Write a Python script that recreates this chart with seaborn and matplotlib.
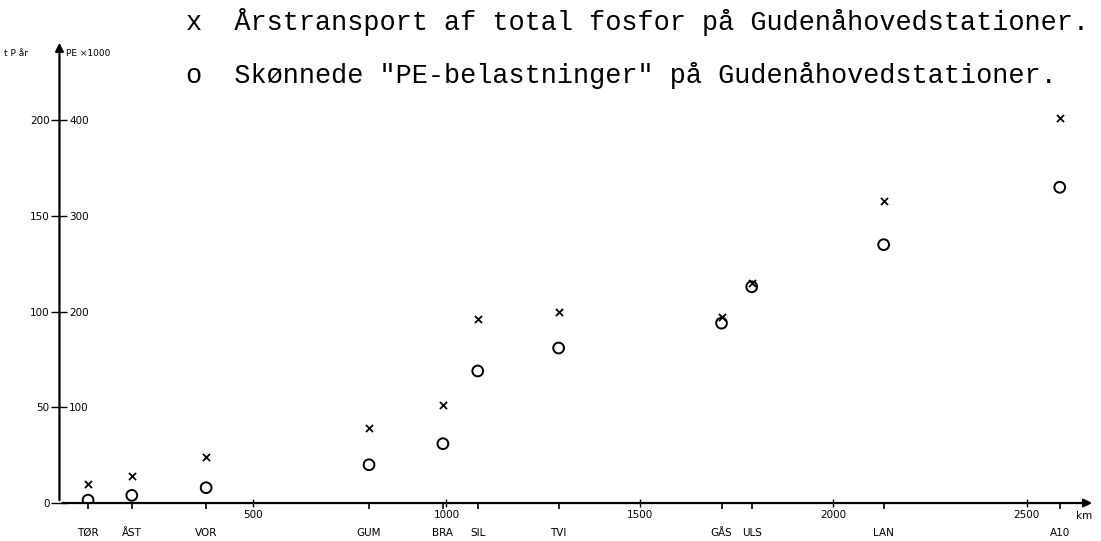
import matplotlib
matplotlib.use("Agg")
import matplotlib.pyplot as plt
import seaborn as sns

# stations along the river (km) and measured values
stations = ["TØR", "ÅST", "VOR", "GUM", "BRA", "SIL", "TVI", "GÅS", "ULS", "LAN", "A10"]
km = [74, 187, 379, 800, 991, 1081, 1290, 1711, 1789, 2130, 2585]
p_transport = [10, 14, 24, 39, 51, 96, 100, 97, 115, 158, 201]      # t P / år
pe_load = [3, 8, 16, 40, 62, 138, 162, 188, 226, 270, 330]          # PE x 1000

km_ticks = [500, 1000, 1500, 2000, 2500]
p_ticks = [0, 50, 100, 150, 200]
pe_ticks = [100, 200, 300, 400]

sns.set_style("white")
plt.rcParams["font.family"] = ["DejaVu Sans"]
plt.rcParams["text.color"] = "black"
plt.rcParams["xtick.color"] = "black"
plt.rcParams["ytick.color"] = "black"

fig = plt.figure(figsize=(11.01, 5.41), dpi=100)
ax = fig.add_axes([0.054, 0.0702, 0.9405, 0.856])
ax.set_xlim(0, 2676)
ax.set_ylim(0, 242)

sns.scatterplot(x=km, y=p_transport, marker="x", color="black", s=26,
                linewidth=1.3, ax=ax, zorder=3)

ax2 = ax.twinx()
ax2.set_ylim(0, 484)
sns.scatterplot(x=km, y=pe_load, marker="o", s=60, facecolors="none",
                edgecolors="black", linewidth=1.4, ax=ax2, zorder=3)

for a in (ax, ax2):
    for s in ("top", "right", "bottom", "left"):
        a.spines[s].set_visible(False)
    a.set_xlabel("")
    a.set_ylabel("")

# axes with arrow heads
ax.annotate("", xy=(1.0, 0), xytext=(0, 0), xycoords="axes fraction",
            arrowprops=dict(arrowstyle="-|>", color="black", lw=1.6, mutation_scale=12))
ax.annotate("", xy=(0, 1.0), xytext=(0, 0), xycoords="axes fraction",
            arrowprops=dict(arrowstyle="-|>", color="black", lw=1.6, mutation_scale=12))

# x ticks: km values above, station names below
ax.set_xticks(km_ticks)
ax.set_xticklabels([str(k) for k in km_ticks])
ax.set_xticks(km, minor=True)
ax.set_xticklabels(stations, minor=True)
ax.tick_params(axis="x", which="major", direction="inout", length=6, width=1,
               labelsize=7.5, pad=2, bottom=True)
ax.tick_params(axis="x", which="minor", direction="out", length=4, width=1.2,
               labelsize=7.5, pad=14, bottom=True)

# left y ticks
ax.set_yticks(p_ticks)
ax.set_yticklabels([str(v) for v in p_ticks])
ax.tick_params(axis="y", which="major", direction="inout", length=12, width=1,
               labelsize=7.5, pad=1, left=True)

# right scale labels drawn next to the same axis line
ax2.spines["right"].set_position(("axes", 0))
ax2.set_yticks(pe_ticks)
ax2.set_yticklabels([str(v) for v in pe_ticks])
ax2.tick_params(axis="y", length=0, labelsize=7.5, pad=7)

# unit labels
fig.text(0.004, 0.902, "t P år", fontsize=6.5, ha="left", va="center")
fig.text(0.060, 0.902, "PE ×1000", fontsize=6.5, ha="left", va="center")
fig.text(0.985, 0.046, "km", fontsize=7.5, ha="center", va="center")

# legend lines in typewriter style
fig.text(0.169, 0.959, "x  Årstransport af total fosfor på Gudenåhovedstationer.",
         family="Liberation Mono", fontsize=19.35, ha="left", va="center")
fig.text(0.169, 0.861, 'o  Skønnede "PE-belastninger" på Gudenåhovedstationer.',
         family="Liberation Mono", fontsize=19.35, ha="left", va="center")

fig.savefig("out.png", dpi=100)
